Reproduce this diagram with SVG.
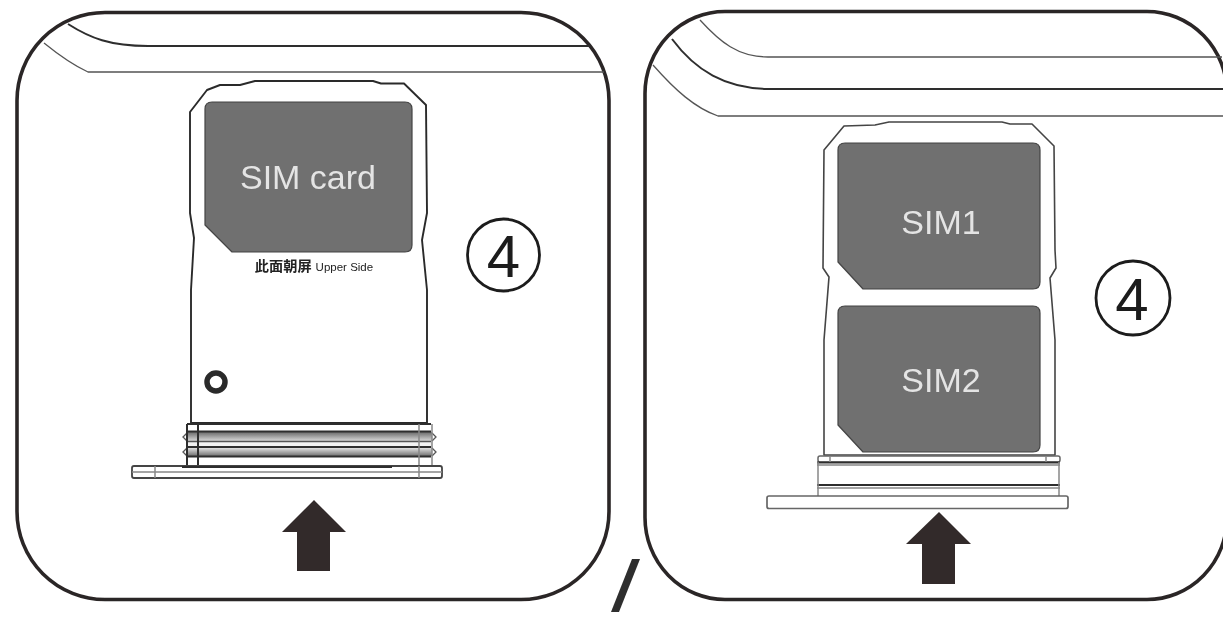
<svg xmlns="http://www.w3.org/2000/svg" width="1223" height="621" viewBox="0 0 1223 621">
<defs>
<linearGradient id="band" x1="0" y1="0" x2="0" y2="1">
<stop offset="0" stop-color="#6a6a6a"/><stop offset="1" stop-color="#d8d8d8"/>
</linearGradient>
<linearGradient id="band2" x1="0" y1="0" x2="0" y2="1">
<stop offset="0" stop-color="#e0e0e0"/><stop offset="1" stop-color="#707070"/>
</linearGradient>
<filter id="soft" x="-2%" y="-2%" width="104%" height="104%"><feGaussianBlur stdDeviation="0.45"/></filter>
</defs>
<style>
.frame{fill:none;stroke:#2b2526;stroke-width:3.600}
.thin{fill:none;stroke:#555;stroke-width:1.300}
.gray{fill:none;stroke:#888;stroke-width:1.500}
.mid{fill:none;stroke:#2e2e2e;stroke-width:2}
.tray{fill:#fff;stroke:#2a2a2a;stroke-width:1.900;stroke-linejoin:round}
.tray2{fill:#fff;stroke:#444;stroke-width:1.600;stroke-linejoin:round}
.sim{fill:#6f6f6f;stroke:#444;stroke-width:1.200;stroke-linejoin:round}
.lbl{font-family:"Liberation Sans",Arial,sans-serif;font-size:34px;fill:#e4e4e4;text-anchor:middle}
.num{font-family:"Liberation Sans",Arial,sans-serif;font-size:60px;fill:#1a1a1a;text-anchor:middle}
.arrow{fill:#332c2a}
</style>
<rect width="1223" height="621" fill="#fff"/>
<g filter="url(#soft)">
<g id="left-panel">
<rect class="frame" x="17" y="12.500" width="592" height="587" rx="88" ry="88"/>
<path class="mid" d="M68 24C90 38 110 46 148 46H590"/>
<path class="thin" d="M44 43C60 56 75 66 88 72H604"/>
</g>
<g id="left-tray">
<path class="tray" d="M255 81H373L381 83.500H404L426 105L427 213L422 240L427 290V423H191V290L194 238L190 213V112L207 90L220 85H240L255 81Z"/>
<path class="sim" d="M212 102H405Q412 102 412 109V245Q412 252 405 252H232L205 225V109Q205 102 212 102Z"/>
<text class="lbl" x="308" y="189">SIM card</text>
<text x="314" y="271" style="font-family:'Liberation Sans','Noto Sans CJK SC',sans-serif;fill:#222;text-anchor:middle"><tspan style="font-size:14.200px;font-weight:700">此面朝屏</tspan><tspan dx="4" style="font-size:11.500px">Upper Side</tspan></text>
<circle cx="216" cy="382" r="9" fill="#fff" stroke="#2b2b2b" stroke-width="5.500"/>
<rect x="187" y="424" width="245" height="7" fill="#fff"/>
<rect x="187" y="432" width="245" height="9" fill="url(#band)"/>
<rect x="187" y="442" width="245" height="5" fill="#f2f2f2"/>
<rect x="187" y="448" width="245" height="8" fill="url(#band2)"/>
<path class="mid" d="M187 424H431M187 431.500H431M187 447H431M187 456.500H431"/>
<path class="thin" d="M187 441.500H431"/>
<path class="thin" d="M187 433l-4 4 4 4M187 448l-4 4 4 4M432 433l4 4-4 4M432 448l4 4-4 4"/>
<path class="mid" d="M187 424V467M198 424V467"/>
<path class="gray" d="M419 424V466M432 424V466"/>
<rect x="132" y="466" width="310" height="12" rx="2" fill="#fff" stroke="#444" stroke-width="1.800"/>
<path class="mid" d="M182 467H392"/>
<path class="gray" d="M132 472H442M155 466V478M419 466V478"/>
</g>
<g id="left-arrow"><path class="arrow" d="M314 500L346 532H330V571H297V532H282Z"/></g>
<g id="left-step">
<circle cx="503.500" cy="255" r="36" fill="#fff" stroke="#1c1c1c" stroke-width="2.800"/>
<text class="num" x="503.500" y="277">4</text>
</g>
<g id="right-panel">
<rect class="frame" x="645" y="11.500" width="582" height="588" rx="80" ry="82"/>
<path class="thin" d="M700 20C720 42 738 57 768 57H1222"/>
<path class="mid" d="M672 39C695 70 725 89 770 89H1223"/>
<path class="thin" d="M653 65C675 90 695 108 718 116H1223"/>
</g>
<g id="right-tray">
<path class="tray2" d="M889 122H1002L1010 124H1032L1054 146L1055 250L1056 268L1050 278L1055 340V455H824V340L829 277L823 268L824 150L844 126L875 125Z"/>
<path class="sim" d="M845 143H1033Q1040 143 1040 150V282Q1040 289 1033 289H863L838 262V150Q838 143 845 143Z"/>
<path class="sim" d="M845 306H1033Q1040 306 1040 313V445Q1040 452 1033 452H863L838 425V313Q838 306 845 306Z"/>
<text class="lbl" x="941" y="234">SIM1</text>
<text class="lbl" x="941" y="392">SIM2</text>
<rect x="818" y="456" width="242" height="6" fill="#fff" stroke="#666" stroke-width="1.500" rx="2"/>
<path class="mid" d="M817 462.500H1060M817 485H1060"/>
<path class="gray" d="M817 465H1060M817 488H1060M818 462V496M1059 462V496M830 456V462M1046 456V462"/>
<rect x="767" y="496" width="301" height="12.500" rx="2" fill="#fff" stroke="#666" stroke-width="1.700"/>
</g>
<g id="right-arrow"><path class="arrow" d="M939 512L971 544H955V584H922V544H906Z"/></g>
<g id="right-step">
<circle cx="1133" cy="298" r="37" fill="#fff" stroke="#1c1c1c" stroke-width="2.800"/>
<text class="num" x="1132" y="320">4</text>
</g>
<g id="separator"><path d="M632 559H640L619 612H611Z" fill="#2e2e2e"/></g>
</g>
</svg>
